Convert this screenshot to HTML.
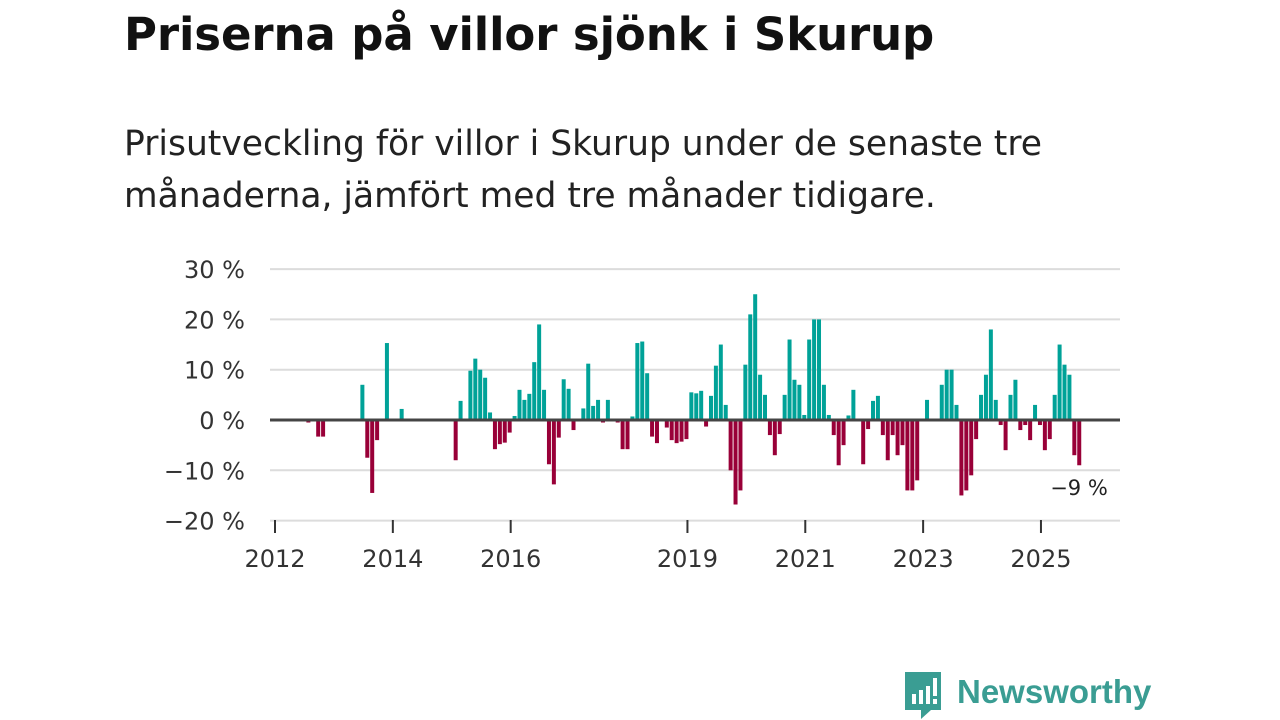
<!DOCTYPE html>
<html><head><meta charset="utf-8"><style>
body{margin:0;width:1280px;height:720px;background:#fff;overflow:hidden;font-family:"DejaVu Sans",sans-serif;color:#111}
#title{position:absolute;left:124px;top:8px;font-size:45px;font-weight:bold;margin:0;font-family:"DejaVu Sans",sans-serif;letter-spacing:-0.1px}
#sub{position:absolute;left:124px;top:118px;font-size:34.5px;line-height:52px;margin:0;color:#222;width:960px;font-family:"DejaVu Sans",sans-serif}
#logo{position:absolute;left:903px;top:670px}
</style></head><body>
<h1 id="title">Priserna på villor sjönk i Skurup</h1>
<p id="sub">Prisutveckling för villor i Skurup under de senaste tre månaderna, jämfört med tre månader tidigare.</p>
<svg id="chart" width="1280" height="720" style="position:absolute;left:0;top:0"></svg>
<svg id="logo" width="260" height="50">
<path d="M2 2h36v38h-10l-10 9v-9H2z" fill="#3a9d93"/>
<rect x="9" y="24" width="4" height="10" fill="#fff"/><rect x="16" y="20" width="4" height="14" fill="#fff"/><rect x="23" y="16" width="4" height="18" fill="#fff"/><rect x="30" y="8" width="4" height="18" fill="#fff"/><rect x="30" y="29" width="4" height="5" fill="#fff"/>
<text x="54" y="33" font-family="Liberation Sans, sans-serif" font-size="33" font-weight="bold" fill="#3a9d93">Newsworthy</text>
</svg>
<script>
const months=[7,9,10,18,19,20,21,23,26,37,38,40,41,42,43,44,45,46,47,48,49,50,51,52,53,54,55,56,57,58,59,60,61,62,63,64,65,66,67,68,70,71,72,73,74,75,76,77,78,79,80,81,82,83,84,85,86,87,88,89,90,91,92,93,94,95,96,97,98,99,100,101,102,103,104,105,106,107,108,109,110,111,112,113,114,115,116,117,118,120,121,122,123,124,125,126,127,128,129,130,131,133,136,137,138,139,140,141,142,143,144,145,146,147,148,149,150,151,152,153,154,155,156,157,158,159,160,161,162,163,164];
const values=[-0.5,-3.3,-3.3,7,-7.5,-14.5,-4,15.3,2.2,-8,3.8,9.8,12.2,10,8.4,1.5,-5.8,-4.8,-4.5,-2.5,0.8,6,4,5.2,11.5,19,6,-8.8,-12.8,-3.5,8.1,6.2,-2,-0.3,2.3,11.2,2.8,4,-0.5,4,-0.5,-5.8,-5.8,0.7,15.3,15.6,9.3,-3.3,-4.6,0.3,-1.5,-4,-4.6,-4.3,-3.8,5.5,5.3,5.8,-1.3,4.8,10.8,15,3,-10,-16.8,-14,11,21,25,9,5,-3,-7,-2.8,5,16,8,7,1,16,20,20,7,1,-3,-9,-5,0.9,6,-8.8,-1.8,3.8,4.8,-3,-8,-3,-7,-5,-14,-14,-12,4,7,10,10,3,-15,-14,-11,-3.8,5,9,18,4,-1,-6,5,8,-2,-1,-4,3,-1,-6,-3.8,5,15,11,9,-7,-9];
const yTicks=[30,20,10,0,-10,-20];
const yTickLabels=["30 %","20 %","10 %","0 %","−10 %","−20 %"];
const years=[2012,2014,2016,2019,2021,2023,2025];
const NS="http://www.w3.org/2000/svg";
const svg=document.getElementById('chart');
const x=m=>274+m*4.91;
const y=v=>420-v*5.03;
const F='DejaVu Sans, sans-serif';
function mk(t,a){const e=document.createElementNS(NS,t);for(const k in a)e.setAttribute(k,a[k]);svg.appendChild(e);return e;}
yTicks.forEach((t,i)=>{
 if(t!==0){const g=mk('line',{x1:270,x2:1120,y1:y(t),y2:y(t),stroke:'#dcdcdc','stroke-width':2});
 
 }
 const l=mk('text',{x:245,y:y(t)+9,'text-anchor':'end','font-size':24,fill:'#333','font-family':F});
 l.textContent=yTickLabels[i];
 
 
});
months.forEach((m,i)=>{
 const v=values[i];
 const r=mk('rect',{x:x(m)-2,width:4,y:Math.min(y(v),y(0)),height:Math.abs(y(v)-y(0)),fill:v>=0?'#00a298':'#990038'});
 
 
});
const z=mk('line',{x1:270,x2:1120,y1:y(0),y2:y(0),stroke:'#444','stroke-width':3});


years.forEach(yr=>{
 const px=x((yr-2012)*12)+1;
 const t=mk('line',{x1:px,x2:px,y1:520,y2:533,stroke:'#333','stroke-width':2});
 
 
 const l=mk('text',{x:px,y:567,'text-anchor':'middle','font-size':24,fill:'#333','font-family':F});
 l.textContent=yr;
 
 
});
const a=mk('text',{x:1079,y:495,'text-anchor':'middle','font-size':21,fill:'#222','font-family':F});
a.textContent='−9 %';


</script>
</body></html>
